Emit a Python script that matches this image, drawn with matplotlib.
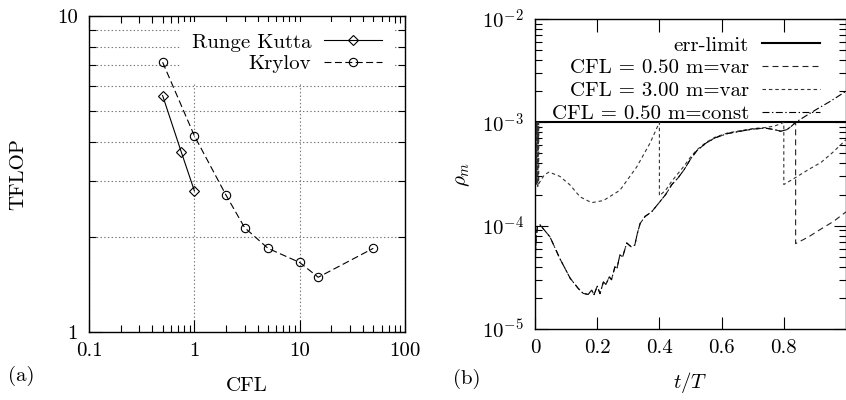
import matplotlib
matplotlib.use("Agg")
import matplotlib.pyplot as plt
from matplotlib.ticker import LogLocator, NullFormatter

plt.rcParams["font.family"] = "cmr10"
plt.rcParams["mathtext.fontset"] = "cm"
plt.rcParams["axes.formatter.use_mathtext"] = True
plt.rcParams["font.size"] = 15
plt.rcParams["lines.scale_dashes"] = False

# (a) cost vs CFL
rk_cfl = [0.5, 0.75, 1.0]
rk_tflop = [5.6, 3.72, 2.8]
kr_cfl = [0.5, 1, 2, 3, 5, 10, 15, 50]
kr_tflop = [7.14, 4.18, 2.71, 2.14, 1.84, 1.66, 1.49, 1.84]

# (b) error estimate vs t/T
err_limit = 1e-3

# common part of the two CFL=0.50 runs
t_low = [0.0, 0.003, 0.008, 0.016, 0.048, 0.080, 0.113, 0.139, 0.155, 0.171, 0.182,
         0.190, 0.200, 0.209, 0.220, 0.228, 0.239, 0.246, 0.257, 0.263, 0.273,
         0.282, 0.295, 0.309, 0.321, 0.329, 0.338, 0.354, 0.375, 0.397, 0.42,
         0.44, 0.46, 0.48, 0.50, 0.52, 0.55, 0.58, 0.62, 0.66, 0.70, 0.74, 0.77,
         0.79, 0.81, 0.825, 0.838]
rho_low = [3.5e-5, 7e-5, 1e-4, 1.02e-4, 7.8e-5, 4.8e-5, 3.1e-5, 2.47e-5, 2.21e-5,
           2.16e-5, 2.38e-5, 2.15e-5, 2.6e-5, 2.2e-5, 2.86e-5, 2.7e-5, 3.2e-5,
           3.0e-5, 4.0e-5, 3.8e-5, 5.2e-5, 5.0e-5, 6.8e-5, 6.25e-5, 6.5e-5, 8.4e-5,
           1.05e-4, 1.23e-4, 1.36e-4, 1.64e-4, 2.0e-4, 2.5e-4, 2.9e-4, 3.5e-4,
           4.4e-4, 5.3e-4, 6.3e-4, 7.1e-4, 7.8e-4, 8.2e-4, 8.6e-4, 8.8e-4, 8.5e-4,
           8.2e-4, 8.5e-4, 9.2e-4, 1e-3]

# CFL=0.50 m=var after the restart
t_var_end = [0.838, 0.88, 0.915, 0.96, 1.0]
rho_var_end = [6.7e-5, 7.8e-5, 9.1e-5, 1.1e-4, 1.36e-4]

# CFL=0.50 m=const keeps growing
t_const_end = [0.87, 0.906, 0.95, 1.0]
rho_const_end = [1.15e-3, 1.34e-3, 1.6e-3, 2.0e-3]

# CFL=3.00 m=var
t_cfl3 = [0.0, 0.003, 0.003, 0.006, 0.006, 0.009, 0.009, 0.012, 0.012, 0.03,
          0.045, 0.080, 0.113, 0.145, 0.182, 0.22, 0.273, 0.327, 0.37, 0.40,
          0.40, 0.42, 0.44, 0.46, 0.48, 0.50, 0.52, 0.55, 0.58, 0.62, 0.66,
          0.70, 0.74, 0.77, 0.79, 0.80, 0.80, 0.84, 0.88, 0.92, 0.96, 1.0]
rho_cfl3 = [4e-4, 1e-3, 2.5e-4, 1e-3, 2.5e-4, 1e-3, 2.4e-4, 1e-3, 2.55e-4, 3.1e-4,
            3.3e-4, 3.0e-4, 2.47e-4, 1.9e-4, 1.67e-4, 1.75e-4, 2.2e-4, 3.7e-4,
            6.3e-4, 1e-3, 1.95e-4, 2.2e-4, 2.7e-4, 3.2e-4, 3.8e-4, 4.6e-4,
            5.4e-4, 6.4e-4, 7.2e-4, 7.9e-4, 8.3e-4, 8.7e-4, 8.9e-4, 9.2e-4,
            9.7e-4, 1e-3, 2.5e-4, 2.95e-4, 3.5e-4, 4.1e-4, 5.2e-4, 6.8e-4]

fig = plt.figure(figsize=(8.46, 4.0), dpi=100)
ax1 = fig.add_axes([89 / 846, 68 / 400, 316 / 846, 316 / 400])
ax2 = fig.add_axes([535 / 846, 71 / 400, 311 / 846, 310 / 400])

for ax in (ax1, ax2):
    ax.tick_params(which="both", direction="in", top=True, right=True)
    ax.tick_params(which="major", length=9, width=0.8)
    ax.tick_params(which="minor", length=5, width=0.8)
    for s in ax.spines.values():
        s.set_linewidth(1.0)

# ---- panel (a)
ax1.set_xscale("log")
ax1.set_yscale("log")
ax1.plot(rk_cfl, rk_tflop, color="black", lw=0.8, marker="D", ms=5,
         mfc="none", mec="black", mew=0.8, label="Runge Kutta")
ax1.plot(kr_cfl, kr_tflop, color="black", lw=0.8, ls=(0, (5, 2.5)), marker="o",
         ms=6, mfc="none", mec="black", mew=0.8, label="Krylov")
ax1.set_xlim(0.1, 100)
ax1.set_ylim(1, 10)
ax1.set_xticks([0.1, 1, 10, 100], ["0.1", "1", "10", "100"])
ax1.set_yticks([1, 10], ["1", "10"])
ax1.xaxis.set_minor_locator(LogLocator(subs=range(2, 10)))
ax1.yaxis.set_minor_locator(LogLocator(subs=range(2, 10)))
ax1.xaxis.set_minor_formatter(NullFormatter())
ax1.yaxis.set_minor_formatter(NullFormatter())
ax1.tick_params(axis="x", which="major", pad=7)
ax1.tick_params(axis="y", which="major", pad=8)
ax1.grid(True, which="minor", axis="y", ls=":", color="#777777", lw=0.8)
ax1.grid(True, which="major", axis="x", ls=":", color="#777777", lw=0.8)
ax1.set_axisbelow(True)
ax1.legend(loc="upper right", bbox_to_anchor=(0.962, 0.981), markerfirst=False,
           frameon=True, fancybox=False, edgecolor="none", facecolor="white",
           framealpha=1, handlelength=2.8, handletextpad=0.6, labelspacing=0.15,
           borderpad=0.53, borderaxespad=0)
ax1.set_xlabel("CFL")
ax1.xaxis.label.set_va("center")
ax1.xaxis.set_label_coords(0.5, -0.171)
ax1.set_ylabel("TFLOP")
ax1.yaxis.label.set_va("center")
ax1.yaxis.set_label_coords(-0.223, 0.5)

# ---- panel (b)
ax2.set_yscale("log")
ax2.axhline(err_limit, color="black", lw=1.5, label="err-limit")
ax2.plot(t_low + t_var_end, rho_low + rho_var_end, color="#222222", lw=0.8,
         ls=(0, (4.3, 2.9)), label="CFL = 0.50 m=var")
ax2.plot(t_cfl3, rho_cfl3, color="#333333", lw=0.8, ls=(0, (2.5, 2.1)),
         label="CFL = 3.00 m=var")
ax2.plot(t_low + t_const_end, rho_low + rho_const_end, color="black", lw=0.8,
         ls=(0, (5, 1.8, 1, 1.8)), label="CFL = 0.50 m=const")
ax2.set_xlim(0, 1)
ax2.set_ylim(1e-5, 1e-2)
ax2.set_xticks([0, 0.2, 0.4, 0.6, 0.8], ["0", "0.2", "0.4", "0.6", "0.8"])
ax2.set_yticks([1e-5, 1e-4, 1e-3, 1e-2],
               [r"$10^{-5}$", r"$10^{-4}$", r"$10^{-3}$", r"$10^{-2}$"])
ax2.yaxis.set_minor_locator(LogLocator(subs=range(2, 10)))
ax2.yaxis.set_minor_formatter(NullFormatter())
ax2.tick_params(axis="x", which="major", pad=7)
ax2.tick_params(axis="y", which="major", pad=8)
ax2.legend(loc="upper right", bbox_to_anchor=(0.936, 0.965), markerfirst=False,
           frameon=False, handlelength=2.8, handletextpad=0.6, labelspacing=0.2,
           borderpad=0.3, borderaxespad=0)
ax2.set_xlabel(r"$t/T$")
ax2.xaxis.label.set_va("center")
ax2.xaxis.set_label_coords(0.5, -0.174)
ax2.set_ylabel(r"$\rho_m$")
ax2.yaxis.label.set_va("center")
ax2.yaxis.set_label_coords(-0.2315, 0.497)

fig.text(21 / 846, 1 - 376 / 400, "(a)", ha="center", va="center")
fig.text(467 / 846, 1 - 379 / 400, "(b)", ha="center", va="center")

fig.savefig("out.png", dpi=100)
